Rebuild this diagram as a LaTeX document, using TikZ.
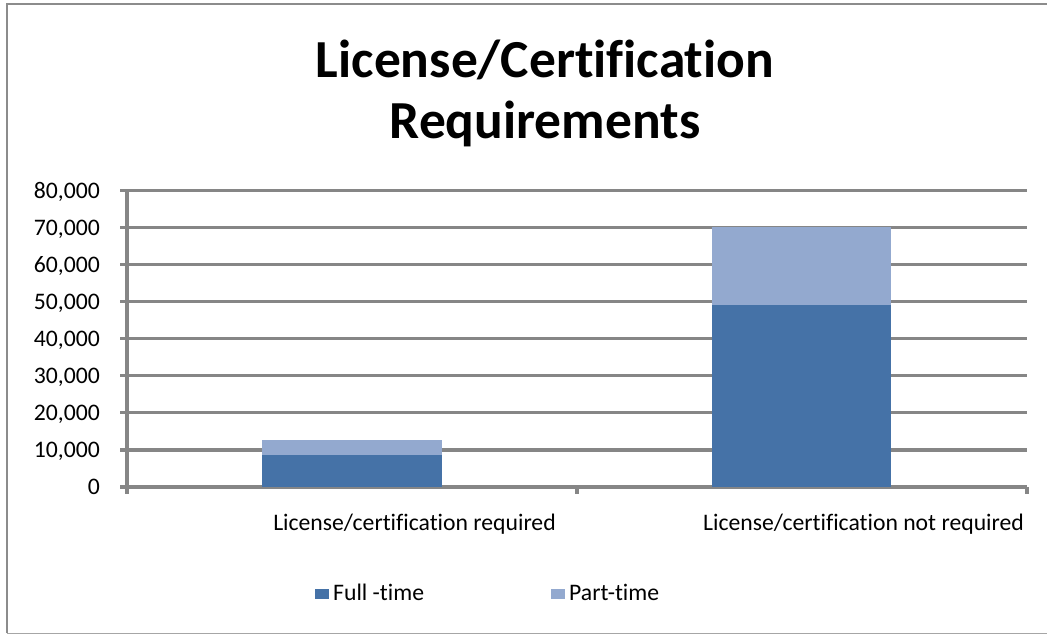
\documentclass[tikz,border=0pt]{standalone}
\usepackage{fontspec}
\setmainfont[Ligatures={NoCommon,NoContextual,NoRare},Contextuals=NoAlternate]{Carlito}
\newcommand\nolig{\kern0pt{}}
\definecolor{fullc}{HTML}{4572A7}
\definecolor{partc}{HTML}{93A9CF}
\definecolor{gridc}{HTML}{868686}
\definecolor{framec}{HTML}{8C8C8C}
\definecolor{framelight}{HTML}{A6A6A6}
\begin{document}
\begin{tikzpicture}[x=1pt,y=-1pt,
  gridline/.style={draw=gridc,line width=3.2pt},
  lbl/.style={inner sep=0pt,font=\fontsize{23.7}{28}\selectfont},
  ttl/.style={inner sep=0pt,font=\fontsize{53.5}{62}\selectfont\bfseries},
  legbox/.style={inner sep=0pt,minimum width=14pt,minimum height=10pt}]
\useasboundingbox (0,0) rectangle (1047,635);
\fill[white] (0,0) rectangle (1047,635);
% frame
\draw[framec,line width=2.5pt] (7,633) -- (7,4) -- (1050,4);
\draw[framelight,line width=1.5pt] (7,633.5) -- (1050,633.5);
% title
\node[ttl,anchor=base] (t1) at (545,77) {License/Certif\nolig icat\nolig ion};
\node[ttl,anchor=base] (t2) at (545,138.5) {Requirements};
% grid and labels
\foreach \v/\t in {0/0,1/{10,000},2/{20,000},3/{30,000},4/{40,000},5/{50,000},6/{60,000},7/{70,000},8/{80,000}}{
  \pgfmathsetmacro{\yy}{487-37.06*\v}
  \draw[gridline] (120,\yy) -- (1027,\yy);
  \node[lbl,anchor=base east] (y\v) at (100,\yy+7.5) {\t};
}
\draw[gridline] (127,190.5) -- (127,494);
\draw[gridline] (577,487) -- (577,494);
\draw[gridline] (1027,487) -- (1027,494);
% bars (value scale 37.06 px per 10,000)
\fill[fullc] (262,487) rectangle (442,455);
\fill[partc] (262,455) rectangle (442,440);
\fill[fullc] (712,487) rectangle (891,305);
\fill[partc] (712,305) rectangle (891,226.5);
% category labels
\node[lbl,anchor=base] (c1) at (414.5,530) {License/certif\nolig icat\nolig ion required};
\node[lbl,anchor=base] (c2) at (863.5,530) {License/certif\nolig icat\nolig ion not required};
% legend
\node[legbox,fill=fullc] (k1) at (322,594) {};
\node[lbl,anchor=base west] (l1) at (333,600.5) {Full -t\nolig ime};
\node[legbox,fill=partc] (k2) at (558,594) {};
\node[lbl,anchor=base west] (l2) at (569,600.5) {Part-t\nolig ime};
\end{tikzpicture}
\end{document}
